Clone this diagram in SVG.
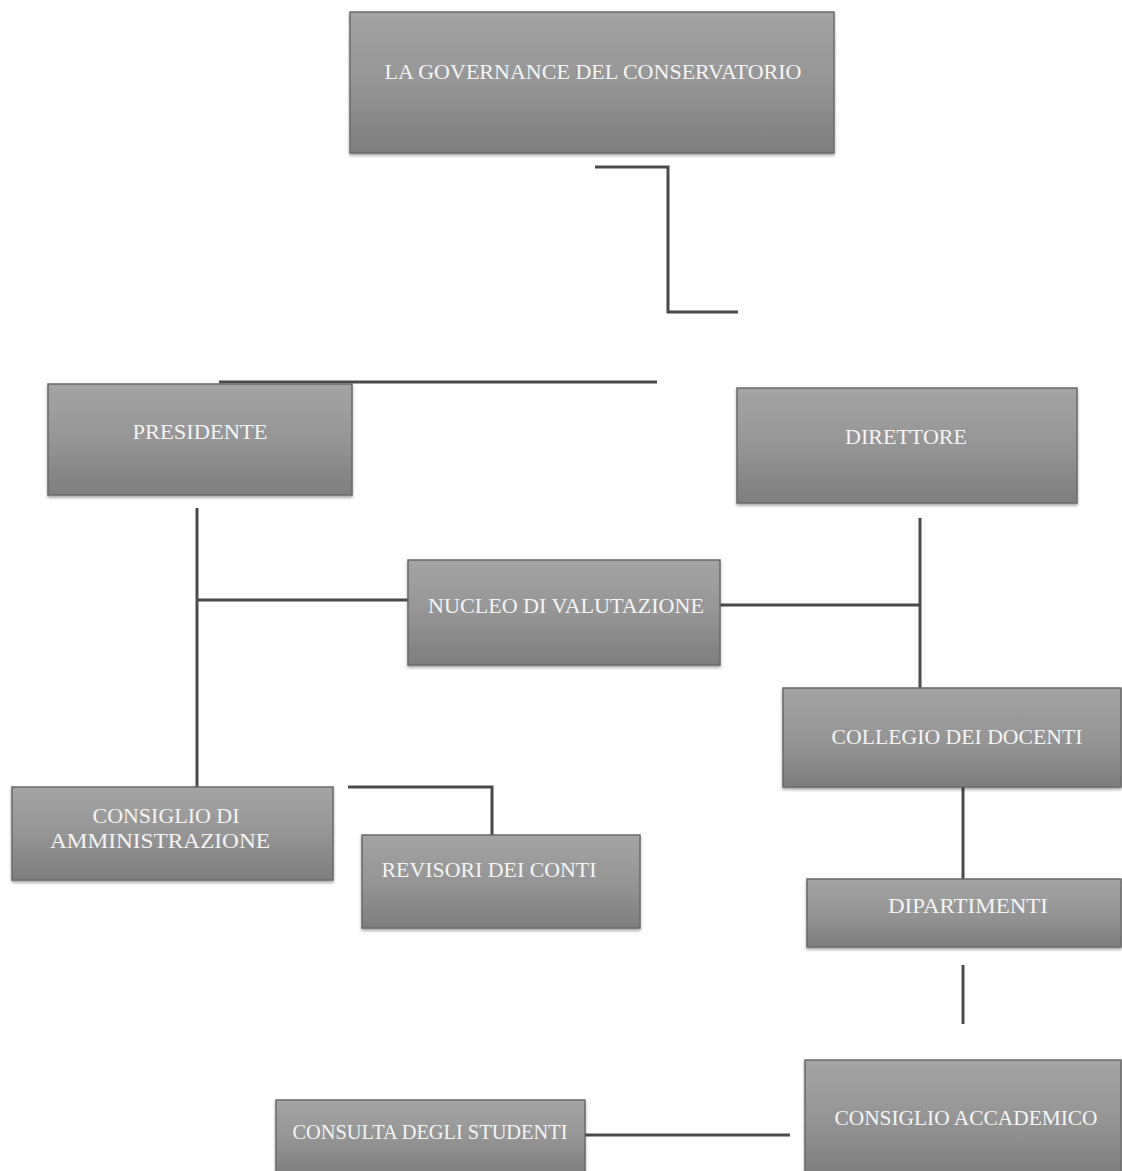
<svg xmlns="http://www.w3.org/2000/svg" width="1122" height="1171" viewBox="0 0 1122 1171">
<style>
.box{fill:url(#g);stroke:#6a6a6a;stroke-width:1.5;filter:url(#sh)}
.t{font-family:"Liberation Serif","DejaVu Serif",serif;font-size:21px;fill:#f4f4f4;text-anchor:middle}
.c{fill:none;stroke:#4a4a4a;stroke-width:3}
</style>
<defs>
<linearGradient id="g" x1="0" y1="0" x2="0" y2="1">
<stop offset="0" stop-color="#a4a4a4"/>
<stop offset="0.5" stop-color="#959595"/>
<stop offset="1" stop-color="#7e7e7e"/>
</linearGradient>
<filter id="sh" x="-5%" y="-5%" width="110%" height="120%">
<feDropShadow dx="0" dy="2" stdDeviation="1.5" flood-color="#000" flood-opacity="0.35"/>
</filter>
</defs>
<rect width="1122" height="1171" fill="#fff"/>
<g id="connectors">
<path class="c" d="M595,167 H668 V312 H738"/>
<path class="c" d="M219,382 H657"/>
<path class="c" d="M197,508 V787"/>
<path class="c" d="M197,600 H408"/>
<path class="c" d="M720,605 H920"/>
<path class="c" d="M920,518 V688"/>
<path class="c" d="M348,787 H492 V835"/>
<path class="c" d="M963,787 V879"/>
<path class="c" d="M963,965 V1024"/>
<path class="c" d="M585,1135 H790"/>
</g>
<g id="governance"><rect class="box" x="350" y="12" width="484" height="141"/><text class="t" x="593" y="79" textLength="417" lengthAdjust="spacingAndGlyphs">LA GOVERNANCE DEL CONSERVATORIO</text></g>
<g id="presidente"><rect class="box" x="48" y="384" width="304" height="111"/><text class="t" x="200" y="439" textLength="135" lengthAdjust="spacingAndGlyphs">PRESIDENTE</text></g>
<g id="direttore"><rect class="box" x="737" y="388" width="340" height="115"/><text class="t" x="906" y="444" textLength="122" lengthAdjust="spacingAndGlyphs">DIRETTORE</text></g>
<g id="nucleo"><rect class="box" x="408" y="560" width="312" height="105"/><text class="t" x="566" y="613" textLength="276" lengthAdjust="spacingAndGlyphs">NUCLEO DI VALUTAZIONE</text></g>
<g id="collegio"><rect class="box" x="783" y="688" width="338" height="99"/><text class="t" x="957" y="744" textLength="251" lengthAdjust="spacingAndGlyphs">COLLEGIO DEI DOCENTI</text></g>
<g id="consiglio-amm"><rect class="box" x="12" y="787" width="321" height="93"/><text class="t" x="166" y="823" textLength="147" lengthAdjust="spacingAndGlyphs">CONSIGLIO DI</text><text class="t" x="160" y="848" textLength="220" lengthAdjust="spacingAndGlyphs">AMMINISTRAZIONE</text></g>
<g id="revisori"><rect class="box" x="362" y="835" width="278" height="93"/><text class="t" x="489" y="877" textLength="215" lengthAdjust="spacingAndGlyphs">REVISORI DEI CONTI</text></g>
<g id="dipartimenti"><rect class="box" x="807" y="879" width="314" height="68"/><text class="t" x="968" y="913" textLength="160" lengthAdjust="spacingAndGlyphs">DIPARTIMENTI</text></g>
<g id="consiglio-acc"><rect class="box" x="805" y="1060" width="316" height="115"/><text class="t" x="966" y="1125" textLength="263" lengthAdjust="spacingAndGlyphs">CONSIGLIO ACCADEMICO</text></g>
<g id="consulta"><rect class="box" x="276" y="1100" width="309" height="75"/><text class="t" x="430" y="1139" textLength="275" lengthAdjust="spacingAndGlyphs">CONSULTA DEGLI STUDENTI</text></g>
</svg>
